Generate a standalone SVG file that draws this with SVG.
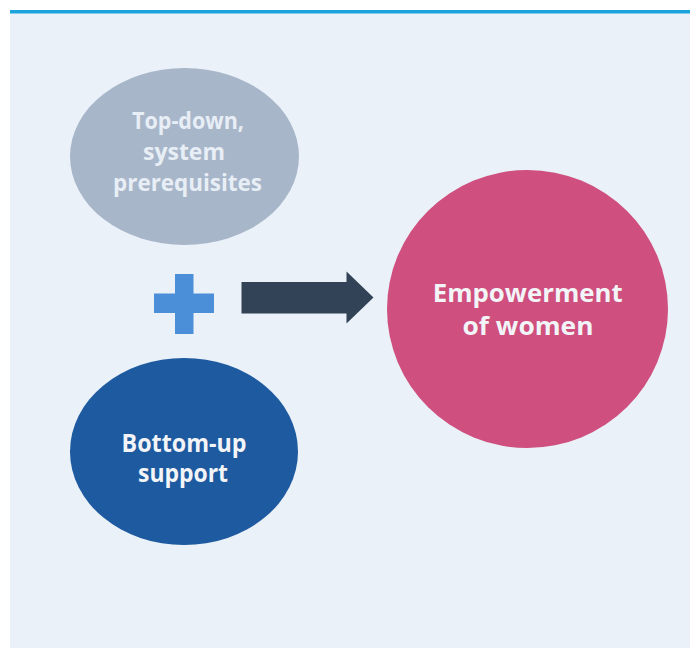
<svg xmlns="http://www.w3.org/2000/svg" width="690" height="648" viewBox="0 0 690 648">
  <style>
    .label { font-family: "Open Sans", "Noto Sans", "Liberation Sans", sans-serif; font-weight: 700; text-anchor: middle; }
    .light { fill: #e8eef5; }
    .white { fill: #f2f4f8; }
  </style>
  <!-- page -->
  <rect x="0" y="0" width="690" height="648" fill="#ffffff"/>
  <rect x="10" y="10" width="680" height="638" fill="#eaf1f9"/>
  <rect x="10" y="10" width="680" height="3.5" fill="#1ba3dc"/>

  <g id="node-topdown">
    <ellipse cx="184.5" cy="156.5" rx="114.5" ry="88.5" fill="#a8b6ca"/>
    <text class="label light" font-size="23" x="188" y="129" textLength="112" lengthAdjust="spacingAndGlyphs">Top-down,</text>
    <text class="label light" font-size="23" x="184" y="160" textLength="82" lengthAdjust="spacingAndGlyphs">system</text>
    <text class="label light" font-size="23" x="187.5" y="191" textLength="149" lengthAdjust="spacingAndGlyphs">prerequisites</text>
  </g>

  <g id="node-plus">
    <rect x="175" y="274" width="18.5" height="60" fill="#4a8fd8"/>
    <rect x="154" y="293.5" width="60" height="19.5" fill="#4a8fd8"/>
  </g>

  <g id="node-bottomup">
    <ellipse cx="184" cy="451.5" rx="114" ry="93.5" fill="#1e5a9f"/>
    <text class="label white" font-size="25" x="184" y="452" textLength="125" lengthAdjust="spacingAndGlyphs">Bottom-up</text>
    <text class="label white" font-size="25" x="183" y="482" textLength="90" lengthAdjust="spacingAndGlyphs">support</text>
  </g>

  <g id="node-empowerment">
    <ellipse cx="527.5" cy="309" rx="140.5" ry="139" fill="#cf4f7e"/>
    <text class="label white" font-size="25" x="527.7" y="302" textLength="190" lengthAdjust="spacingAndGlyphs">Empowerment</text>
    <text class="label white" font-size="25" x="528" y="335" textLength="131" lengthAdjust="spacingAndGlyphs">of women</text>
  </g>

  <g id="connectors">
    <polygon points="241.5,282 346.5,282 346.5,271.5 373.5,297.5 346.5,323.5 346.5,313.5 241.5,313.5" fill="#334357"/>
  </g>
</svg>
